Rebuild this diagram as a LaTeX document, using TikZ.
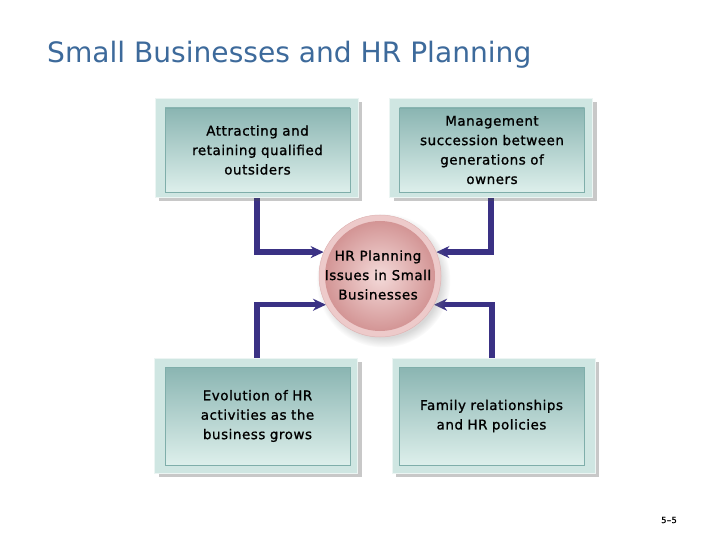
\documentclass[tikz,border=0pt]{standalone}
\usepackage{fontspec}
\setmainfont{DejaVu Sans}
\newfontfamily\boxfont[LetterSpace=4,FakeBold=1.2]{DejaVu Sans}
\usetikzlibrary{shadows,arrows.meta}
\definecolor{titleblue}{HTML}{3D6A9B}
\definecolor{framemint}{HTML}{CFE6E2}
\definecolor{panteal}{HTML}{8AB5B2}
\definecolor{panpale}{HTML}{DDEFEB}
\definecolor{panline}{HTML}{7FAEAA}
\definecolor{linkblue}{HTML}{3A3184}
\definecolor{discred}{HTML}{D39595}
\definecolor{discpale}{HTML}{F4DAD9}
\definecolor{discrim}{HTML}{EDCACA}
\begin{document}
\begin{tikzpicture}[x=1bp,y=-1bp,
    frame/.style={fill=framemint, draw=white!60!framemint, minimum width=203bp, inner sep=0pt,
      drop shadow={opacity=0.3, shadow xshift=4bp, shadow yshift=-4bp, fill=black!70}},
    panel/.style={top color=panteal, bottom color=panpale, draw=panline, line width=0.6bp,
      minimum width=185bp, inner sep=0pt, text width=180bp, align=center,
      font=\boxfont\fontsize{13.5}{19.5}\selectfont},
    link/.style={line width=5.5bp, draw=linkblue, -{Stealth[length=13bp,width=12bp]}}]
  \useasboundingbox (0,0) rectangle (720,540);
  \fill[white] (0,0) rectangle (720,540);
  % title
  \node[anchor=west, text=titleblue, font=\fontsize{28.2}{32}\selectfont, inner sep=0pt] (title) at (47,55) {Small Businesses and HR Planning};
  % connectors first, boxes on top
  \coordinate (hubc) at (380,276);
  \node[circle, minimum size=122bp, inner sep=0pt] (hub) at (hubc) {};
  \coordinate (attractS) at (257,197);
  \coordinate (succS) at (491,197);
  \coordinate (evolN) at (257,358);
  \coordinate (famN) at (492,358);
  \draw[link] (attractS) |- (hub.157);
  \draw[link] (succS) |- (hub.23);
  \draw[link] (evolN) |- (hub.208);
  \draw[link] (famN) |- (hub.332);
  % boxes
  \node[frame, minimum height=99bp] (attractF) at (256.5,147.5) {};
  \node[panel, minimum height=84bp] (attract) at (257.5,150) {Attracting and\\retaining qualified\\outsiders};
  \node[frame, minimum height=99bp] (succF) at (491,147.5) {};
  \node[panel, minimum height=84bp] (succ) at (492,150) {Management\\succession between\\generations of\\owners};
  \node[frame, minimum height=115bp] (evolF) at (256,415.5) {};
  \node[panel, minimum height=98bp] (evol) at (257.5,416) {Evolution of HR\\activities as the\\business grows};
  \node[frame, minimum height=115bp] (famF) at (493.5,415.5) {};
  \node[panel, minimum height=98bp] (fam) at (491.5,416) {Family relationships\\and HR policies};
  % hub
  \fill[discrim, draw=discred!70, line width=0.5bp, circular drop shadow={opacity=0.3, shadow xshift=3bp, shadow yshift=-4bp}] (hubc) circle (61);
  \shade[inner color=discpale, outer color=discred] (hubc) circle (55);
  \node[align=center, font=\boxfont\fontsize{13.5}{19.5}\selectfont] (hubtxt) at (378,275) {HR Planning\\Issues in Small\\Businesses};
  % page number
  \node[font=\boxfont\fontsize{8.5}{10}\selectfont] (pageno) at (669,520) {5\textendash5};
\end{tikzpicture}
\end{document}
